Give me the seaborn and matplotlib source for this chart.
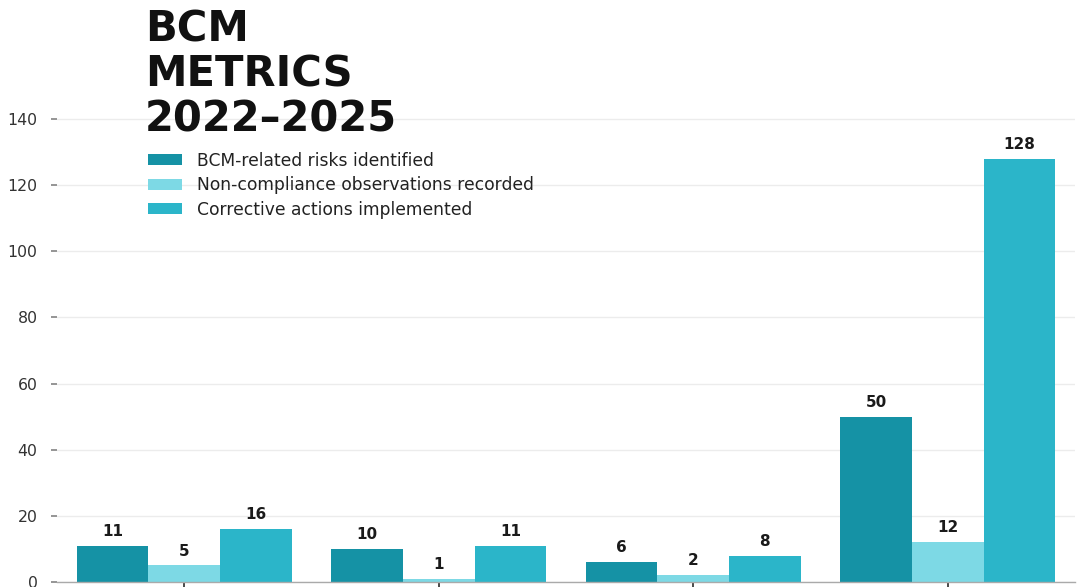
import matplotlib
matplotlib.use("Agg")
import matplotlib.pyplot as plt
import seaborn as sns
import pandas as pd

years = ["2022", "2023", "2024", "2025"]
series_names = ["BCM-related risks identified",
                "Non-compliance observations recorded",
                "Corrective actions implemented"]
risks = [11, 10, 6, 50]
noncompliance = [5, 1, 2, 12]
corrective = [16, 11, 8, 128]
colors = ["#1592a5", "#7dd9e5", "#2bb5c9"]
title = "BCM\nMETRICS\n2022–2025"

rows = []
for name, vals in zip(series_names, [risks, noncompliance, corrective]):
    for y, v in zip(years, vals):
        rows.append({"Year": y, "Series": name, "Value": v})
df = pd.DataFrame(rows)

sns.set_theme(style="whitegrid")
plt.rcParams['font.family'] = ['DejaVu Sans']

W, H = 1077, 587
fig = plt.figure(figsize=(W / 100, H / 100), dpi=100)
ax = fig.add_axes([57 / W, 5 / H, (1075 - 57) / W, (582 - 100) / H])

sns.barplot(data=df, x="Year", y="Value", hue="Series", palette=colors,
            width=0.845, saturation=1, ax=ax, errorbar=None, linewidth=0)

for cont in ax.containers:
    ax.bar_label(cont, fmt="%d", padding=5, fontsize=11, fontweight="bold",
                 color="#1a1a1a")

ax.set_xlim(-0.5, 3.5)
ax.set_ylim(0, 145.7)
ax.set_yticks([0, 20, 40, 60, 80, 100, 120, 140])
ax.set_xticks(range(len(years)))
ax.set_xticklabels([])
ax.set_xlabel("")
ax.set_ylabel("")
ax.grid(axis="y", color="#ececec", linewidth=1)
ax.grid(axis="x", visible=False)
for s in ["left", "top", "right"]:
    ax.spines[s].set_visible(False)
ax.spines["bottom"].set_color("#aaaaaa")
ax.spines["bottom"].set_linewidth(1)
ax.tick_params(axis="y", left=True, length=4, color="#888888",
               labelsize=11.3, labelcolor="#333333", pad=10)
ax.tick_params(axis="x", bottom=True, length=5, color="#333333")

ax_h = 582 - 100
leg = ax.legend(loc="upper left", bbox_to_anchor=(84 / (1075 - 57), 1 - (45 - 0) / ax_h),
                frameon=False, fontsize=12.3, handlelength=2.0, handleheight=0.64,
                handletextpad=0.85, labelspacing=0.38, borderaxespad=0,
                labelcolor="#222222")

fig.text(145 / W, 1 - 9 / H, title, fontsize=30, fontweight="bold",
         color="#111111", va="top", ha="left", linespacing=1.09)

fig.savefig("out.png", dpi=100)
